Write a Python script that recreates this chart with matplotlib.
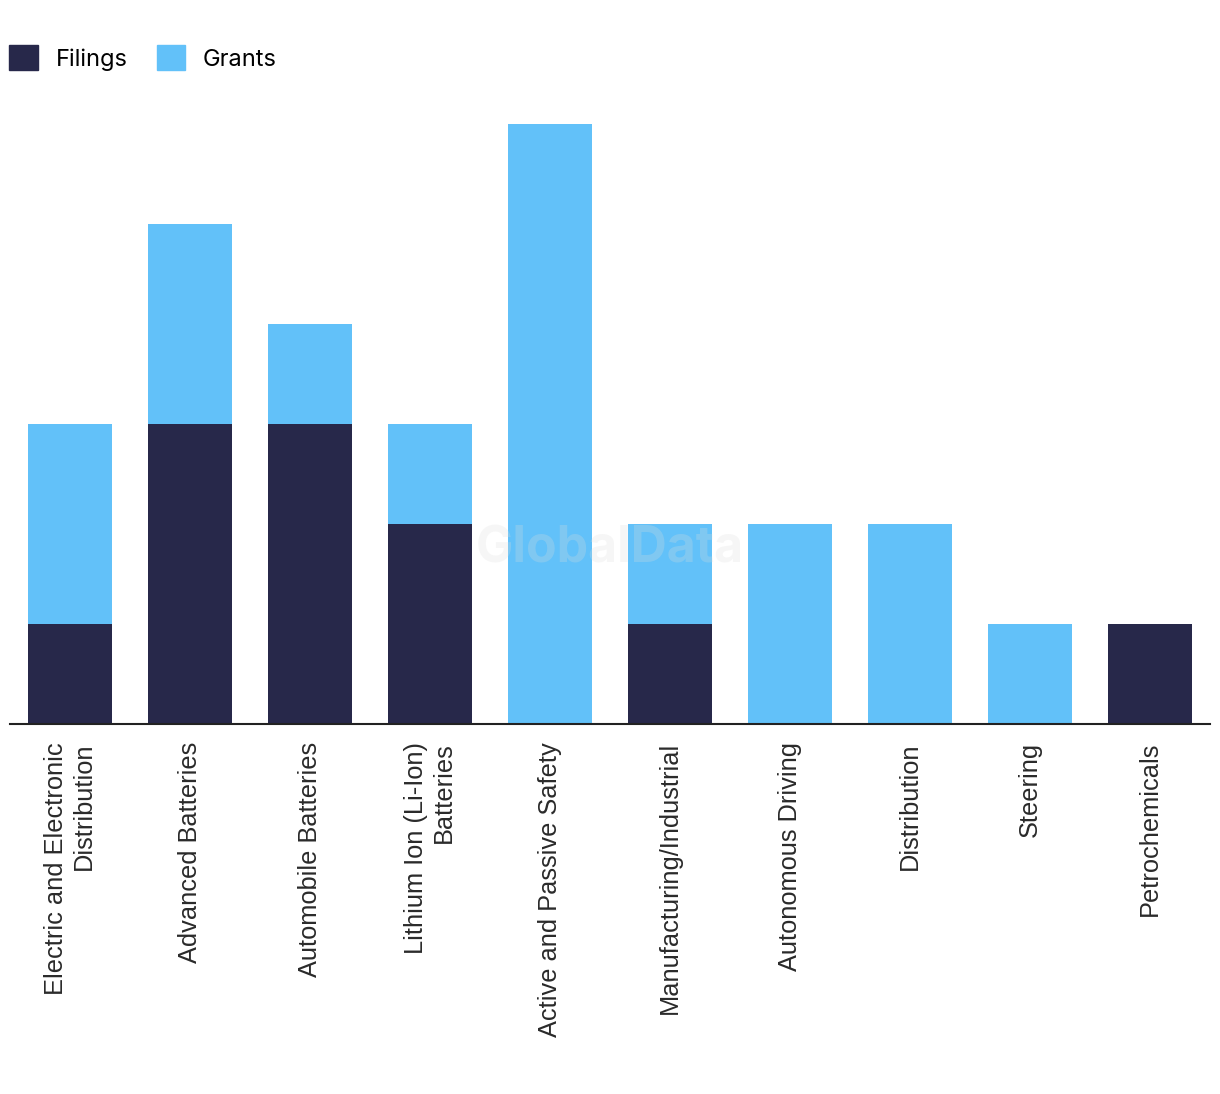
import matplotlib
matplotlib.use('Agg')
import matplotlib.pyplot as plt
from matplotlib.patches import Patch
import numpy as np

# data
categories = [
    "Electric and Electronic\nDistribution",
    "Advanced Batteries",
    "Automobile Batteries",
    "Lithium Ion (Li-Ion)\nBatteries",
    "Active and Passive Safety",
    "Manufacturing/Industrial",
    "Autonomous Driving",
    "Distribution",
    "Steering",
    "Petrochemicals",
]
filings = [1, 3, 3, 2, 0, 1, 0, 0, 0, 1]
grants = [2, 2, 1, 1, 6, 1, 2, 2, 1, 0]

DARK = '#27284a'
LIGHT = '#62c1f9'

plt.rcParams['font.family'] = ['Liberation Sans', 'DejaVu Sans']

W, H = 1220, 1094
fig = plt.figure(figsize=(W / 100, H / 100), dpi=100)
# axes placed in pixel terms: left 10, right 1210, baseline 723, top (6 units) 123
ax = fig.add_axes([10 / W, (H - 724) / H, 1200 / W, 600 / H])

x = np.arange(len(categories))
ax.bar(x, filings, width=0.7, color=DARK, zorder=2)
ax.bar(x, grants, width=0.7, bottom=filings, color=LIGHT, zorder=2)

ax.set_xlim(-0.5, len(categories) - 0.5)
ax.set_ylim(0, 6)
ax.set_yticks([])
ax.set_xticks(x)
ax.set_xticklabels(categories, rotation=90, fontsize=18.3, color='#2a2a2a',
                   multialignment='right', va='top', ha='center')
ax.tick_params(axis='x', length=0, pad=13)
for s in ['top', 'right', 'left']:
    ax.spines[s].set_visible(False)
ax.spines['bottom'].set_color('#222222')
ax.spines['bottom'].set_linewidth(1.5)
ax.spines['bottom'].set_zorder(3)

# faint watermark
ax.text(0.5, (723 - 548) / 600, 'GlobalData', transform=ax.transAxes,
        ha='center', va='center', fontsize=36, fontweight='bold',
        color='#dddddd', alpha=0.25, zorder=5, family=['Inter', 'DejaVu Sans'])

handles = [Patch(color=DARK, label='Filings'), Patch(color=LIGHT, label='Grants')]
fig.legend(handles=handles, loc='upper left', bbox_to_anchor=(0.0, 1 - 36 / H),
           ncol=2, frameon=False, handlelength=1.2, handleheight=1.2,
           handletextpad=0.75, columnspacing=1.25, borderaxespad=0.0,
           prop={'family': ['Inter', 'DejaVu Sans'], 'size': 17})

fig.savefig('out.png', dpi=100, facecolor='white')
